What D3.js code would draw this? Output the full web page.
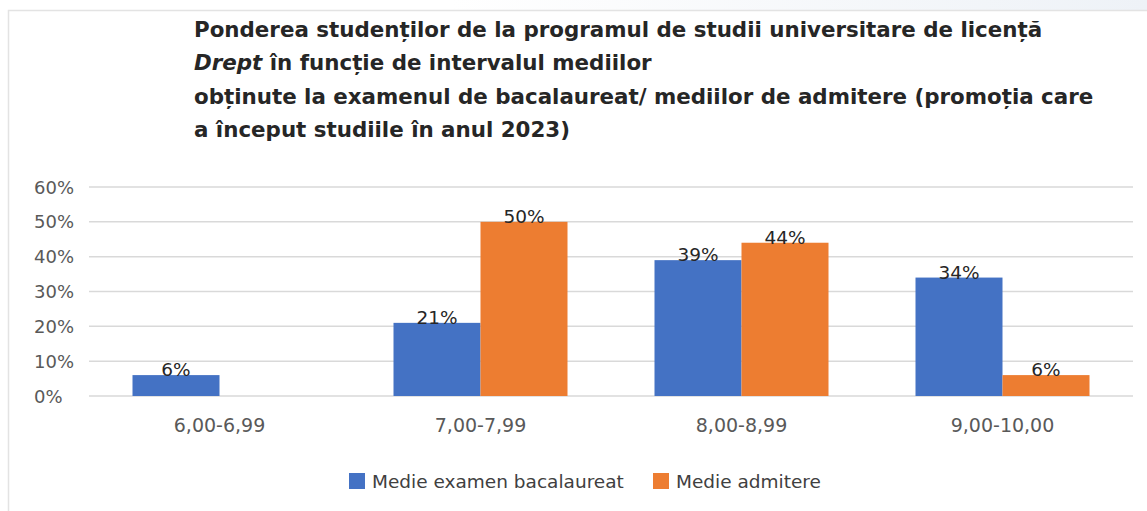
<!DOCTYPE html>
<html>
<head>
<meta charset="utf-8">
<script src="https://cdn.jsdelivr.net/npm/d3@7"></script>
<style>
  html, body { margin: 0; padding: 0; background: #fff; }
  svg { display: block; }
</style>
</head>
<body>
<div id="chart"></div>
<script>
const categories = ['6,00-6,99', '7,00-7,99', '8,00-8,99', '9,00-10,00'];
const seriesNames = ['Medie examen bacalaureat', 'Medie admitere'];
const bacValues = [6, 21, 39, 34];
const admValues = [null, 50, 44, 6];
const yTicks = [0, 10, 20, 30, 40, 50, 60];
const titleLines = [
  'Ponderea studenților de la programul de studii universitare de licență',
  ['Drept', ' în funcție de intervalul mediilor'],
  'obținute la examenul de bacalaureat/ mediilor de admitere (promoția care',
  'a început studiile în anul 2023)'
];

const W = 1147, H = 511;
const FONT = "'DejaVu Sans', sans-serif";
const colors = ['#4472C4', '#ED7D31'];

const svg = d3.select('#chart').append('svg').attr('width', W).attr('height', H);

// faint page background strip above the chart frame
const grad = svg.append('defs').append('linearGradient').attr('id', 'topfade');
grad.append('stop').attr('offset', '0%').attr('stop-color', '#ffffff');
grad.append('stop').attr('offset', '100%').attr('stop-color', '#eef2f7');
svg.append('rect').attr('x', 450).attr('y', 0).attr('width', W - 450).attr('height', 10)
  .attr('fill', 'url(#topfade)');

// chart frame
svg.append('rect').attr('x', 8.5).attr('y', 10.5).attr('width', W + 20).attr('height', H + 20)
  .attr('fill', '#fff').attr('stroke', '#e3e3e3').attr('stroke-width', 1.5);

// title
const title = svg.append('g').attr('font-family', FONT).attr('font-weight', 'bold')
  .attr('fill', '#262626');
const baselines = [37, 70, 104, 137];
const titleTexts = titleLines.map((line, i) => {
  const t = title.append('text').attr('x', 194).attr('y', baselines[i]);
  if (Array.isArray(line)) {
    t.append('tspan').attr('font-style', 'italic').text(line[0]);
    t.append('tspan').text(line[1]);
  } else {
    t.text(line);
  }
  return t;
});
// fit the title size to the reference line width
titleTexts.forEach(t => t.attr('font-size', 18));
const w1 = titleTexts[0].node().getComputedTextLength();
const titleSize = 18 * 849 / w1;
titleTexts.forEach(t => t.attr('font-size', titleSize));

// plot
const x0 = 89, x1 = 1133, yBottom = 396, yTop = 187;
const x = d3.scaleBand().domain(categories).range([x0, x1]).paddingInner(0).paddingOuter(0);
const xs = d3.scaleBand().domain([0, 1]).range([0, x.bandwidth()]).paddingInner(0).paddingOuter(0.5);
const y = d3.scaleLinear().domain([0, 60]).range([yBottom, yTop]);

const grid = svg.append('g');
grid.selectAll('line').data(yTicks).join('line')
  .attr('x1', x0).attr('x2', x1)
  .attr('y1', d => y(d)).attr('y2', d => y(d))
  .attr('stroke', '#d9d9d9').attr('stroke-width', 1.5);

svg.append('g').selectAll('text').data(yTicks).join('text')
  .attr('x', 34).attr('y', d => y(d) + 6.5)
  .attr('font-family', FONT).attr('font-size', 18).attr('fill', '#595959')
  .text(d => d + '%');

const xAxis = svg.append('g').attr('transform', `translate(0,${yBottom})`)
  .call(d3.axisBottom(x).tickSize(0).tickPadding(0));
xAxis.select('.domain').remove();
xAxis.selectAll('text')
  .attr('y', 36).attr('dy', 0)
  .attr('font-family', FONT).attr('font-size', 19).attr('fill', '#595959');

const series = [bacValues, admValues];
const bars = svg.append('g');
const labels = svg.append('g').attr('font-family', FONT).attr('font-size', 18.5)
  .attr('fill', '#262626').attr('text-anchor', 'middle');

series.forEach((vals, s) => {
  const data = categories.map((c, i) => ({ c, v: vals[i] })).filter(d => d.v != null);
  bars.selectAll(`rect.s${s}`).data(data).join('rect')
    .attr('class', `s${s}`)
    .attr('x', d => x(d.c) + xs(s))
    .attr('width', xs.bandwidth())
    .attr('y', d => y(d.v))
    .attr('height', d => y(0) - y(d.v))
    .attr('fill', colors[s]);
  labels.selectAll(`text.s${s}`).data(data).join('text')
    .attr('class', `s${s}`)
    .attr('x', d => x(d.c) + xs(s) + xs.bandwidth() / 2)
    .attr('y', d => y(d.v) + 1)
    .text(d => d.v + '%');
});

// legend
const legend = svg.append('g').attr('font-family', FONT).attr('font-size', 18.5).attr('fill', '#404040');
const legendX = [349, 653];
seriesNames.forEach((name, i) => {
  legend.append('rect').attr('x', legendX[i]).attr('y', 473).attr('width', 16).attr('height', 16)
    .attr('fill', colors[i]);
  legend.append('text').attr('x', legendX[i] + 23).attr('y', 488).text(name);
});
</script>
</body>
</html>
